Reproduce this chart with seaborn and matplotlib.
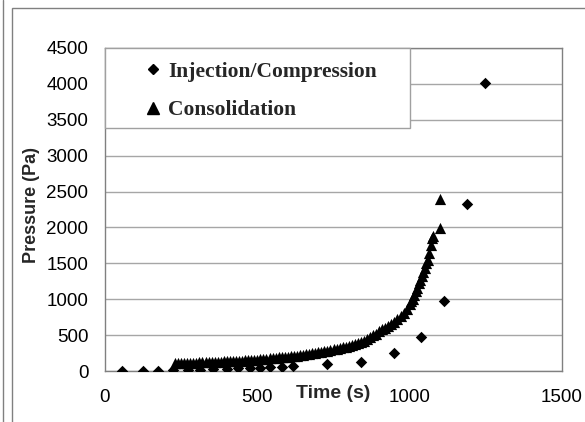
import numpy as np
import matplotlib
matplotlib.use("Agg")
import matplotlib.pyplot as plt
import seaborn as sns
from matplotlib.lines import Line2D
from matplotlib.patches import Rectangle

# data
inj_time = [56, 125, 174, 224, 273, 312, 355, 401, 438, 477, 510, 543, 582, 618,
            730, 839, 947, 1036, 1112, 1187, 1247]
inj_pressure = [0, 5, 5, 10, 15, 20, 25, 30, 35, 40, 45, 50, 60, 70,
                100, 130, 250, 470, 975, 2330, 4010]

cons_time = [230, 240, 250, 260, 270, 280, 290, 300, 310, 320, 330, 340, 350, 360,
             370, 380, 390, 400, 410, 420, 430, 440, 450, 460, 470, 480, 490, 500,
             510, 520, 530, 540, 550, 560, 570, 580, 590, 600, 610, 620, 630, 640,
             650, 660, 670, 680, 690, 700, 710, 720, 730, 740, 750, 760, 770, 780,
             790, 800, 810, 820, 830, 840, 850, 860, 870, 880, 890, 900, 910, 920,
             930, 940, 950, 960, 970, 980, 990, 1000, 1005, 1010, 1015, 1020, 1025,
             1030, 1035, 1040, 1045, 1050, 1055, 1060, 1065, 1070, 1072, 1078,
             1098, 1098]
cons_pressure = [105, 105, 110, 110, 110, 115, 115, 115, 120, 120, 120, 125, 125, 125,
                 130, 130, 135, 135, 140, 140, 140, 145, 145, 150, 150, 150, 155, 160,
                 165, 165, 170, 175, 180, 185, 190, 190, 195, 200, 205, 210, 215, 220,
                 225, 235, 240, 245, 255, 260, 270, 275, 285, 290, 300, 310, 320, 330,
                 340, 350, 365, 375, 390, 405, 420, 445, 470, 495, 520, 560, 580, 600,
                 620, 650, 680, 720, 760, 810, 860, 930, 970, 1010, 1060, 1110, 1160,
                 1220, 1270, 1320, 1380, 1440, 1500, 1550, 1640, 1760, 1850, 1880,
                 1990, 2390]

x_ticks = [0, 500, 1000, 1500]
y_ticks = list(range(0, 5000, 500))

sns.set_style("white")
plt.rcParams['font.family'] = ['Liberation Sans', 'DejaVu Sans']

W, H = 585, 422
fig = plt.figure(figsize=(W / 100, H / 100), dpi=100)
ax = fig.add_axes([105 / W, 1 - 371 / H, (562 - 105) / W, (371 - 48) / H])

sns.scatterplot(x=inj_time, y=inj_pressure, marker="D", s=34, color="black",
                linewidth=0, ax=ax, zorder=3)
sns.scatterplot(x=cons_time, y=cons_pressure, marker="^", s=65, color="black",
                linewidth=0, ax=ax, zorder=3)

ax.set_xlim(0, 1500)
ax.set_ylim(0, 4500)
ax.set_xticks(x_ticks)
ax.set_yticks(y_ticks)
ax.tick_params(axis="both", direction="out", length=5, width=1, color="#808080",
               labelsize=13.5, labelcolor="black")
ax.tick_params(axis="x", pad=8)
ax.tick_params(axis="y", pad=7)
ax.yaxis.grid(True, color="#a6a6a6", linewidth=1)
ax.set_axisbelow(True)
for sp in ax.spines.values():
    sp.set_color("#808080")
    sp.set_linewidth(1)

ax.set_xlabel("Time (s)", fontsize=14, fontweight="bold")
ax.xaxis.label.set_va("center")
ax.xaxis.set_label_coords((333 - 105) / 457, (371 - 393) / 323)
ax.set_ylabel("Pressure (Pa)", fontsize=13, fontweight="bold")
ax.yaxis.label.set_va("center")
ax.yaxis.set_label_coords((31 - 105) / 457, (371 - 205) / 323)

# legend box
ax.add_patch(Rectangle((0, (371 - 128) / 323), (410 - 105) / 457, 80 / 323,
                       transform=ax.transAxes, facecolor="white",
                       edgecolor="#a0a0a0", linewidth=1, zorder=4, clip_on=False))
handles = [Line2D([], [], marker="D", color="black", linestyle="none", markersize=5.5),
           Line2D([], [], marker="^", color="black", linestyle="none", markersize=8)]
leg = ax.legend(handles, ["Injection/Compression", "Consolidation"],
                loc="upper left", bbox_to_anchor=((136 - 105) / 457, (371 - 53) / 323),
                frameon=False, borderaxespad=0, handlelength=0.8, handletextpad=0.3,
                labelspacing=0.85,
                prop={"family": "Liberation Serif", "weight": "bold", "size": 15.5})
leg.set_zorder(5)

# outer chart frame
fig.add_artist(Line2D([3 / W, 3 / W], [0, 1], color="#808080", linewidth=1))
fig.add_artist(Rectangle((12 / W, -0.1), 1.0, 1.1 - 8 / H, facecolor="none",
                         edgecolor="#808080", linewidth=1))

fig.savefig("out.png", dpi=100)
